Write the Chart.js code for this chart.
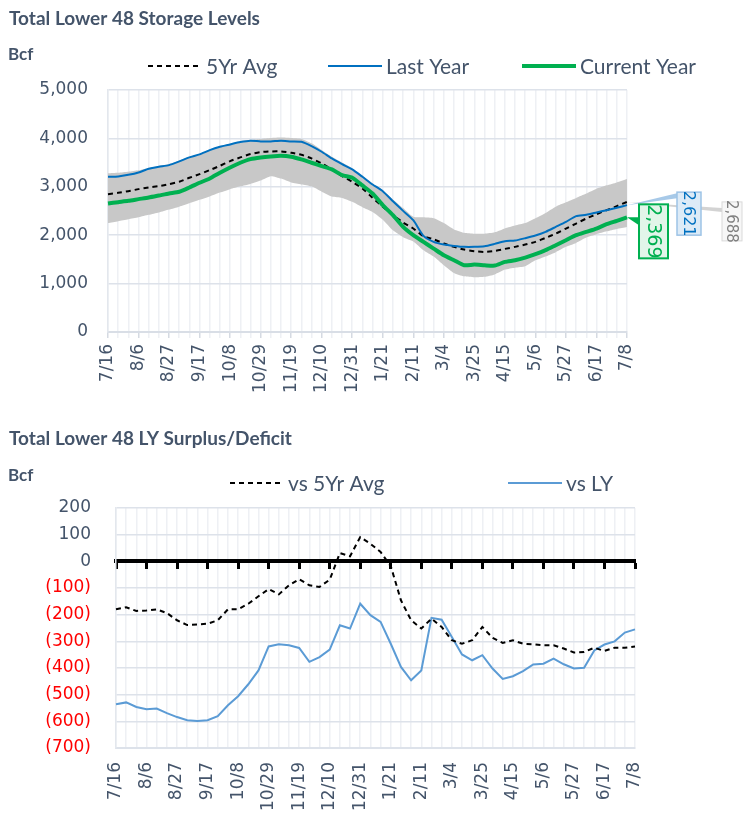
<!DOCTYPE html>
<html>
<head>
<meta charset="utf-8">
<script src="https://cdn.jsdelivr.net/npm/chart.js@4/dist/chart.umd.min.js"></script>
<style>
  body { margin: 0; background: #fff; }
  #topBox { position: absolute; left: 0; top: 0; width: 750px; height: 420px; }
  #botBox { position: absolute; left: 0; top: 420px; width: 750px; height: 413px; }
</style>
</head>
<body>
<div id="topBox"><canvas id="storageChart"></canvas></div>
<div id="botBox"><canvas id="deltaChart"></canvas></div>
<script>
// weekly report dates
const weeks = ['7/16','7/23','7/30','8/6','8/13','8/20','8/27','9/3','9/10','9/17','9/24','10/1','10/8',
  '10/15','10/22','10/29','11/5','11/12','11/19','11/26','12/3','12/10','12/17','12/24','12/31','1/7',
  '1/14','1/21','1/28','2/4','2/11','2/18','2/25','3/4','3/11','3/18','3/25','4/1','4/8','4/15','4/22',
  '4/29','5/6','5/13','5/20','5/27','6/3','6/10','6/17','6/24','7/1','7/8'];

// storage levels, Bcf
const avg5 = [2848,2876,2910,2952,2986,3014,3055,3103,3186,3262,3345,3434,3531,3607,3676,3717,3731,3731,
  3703,3662,3586,3483,3359,3221,3103,2966,2772,2586,2414,2262,2138,1979,1917,1828,1759,1703,1669,1655,
  1676,1717,1759,1807,1862,1945,2034,2138,2241,2345,2434,2517,2600,2688];
const lastYear = [3207,3214,3248,3297,3372,3414,3448,3524,3607,3669,3759,3828,3876,3924,3952,3938,3938,
  3952,3938,3931,3841,3724,3586,3469,3359,3207,3048,2910,2703,2503,2310,1986,1862,1807,1779,1759,1759,
  1772,1821,1876,1890,1938,1993,2069,2172,2276,2393,2421,2469,2517,2566,2621];
const currentYear = [2655,2683,2710,2745,2779,2820,2862,2897,2986,3083,3172,3290,3400,3497,3572,3607,
  3628,3641,3621,3566,3497,3428,3359,3241,3186,3028,2862,2621,2414,2172,2000,1862,1724,1586,1483,1379,
  1393,1379,1372,1448,1483,1538,1607,1690,1793,1897,2000,2069,2138,2228,2297,2369];
const rangeMax = [3280,3290,3310,3340,3390,3430,3470,3540,3620,3680,3770,3840,3890,3940,3970,3990,4010,
  4020,4010,3990,3900,3760,3620,3500,3380,3230,3070,2930,2740,2560,2380,2370,2350,2250,2120,2050,2030,
  2030,2060,2140,2200,2250,2350,2460,2590,2680,2770,2860,2960,3030,3090,3160];
const rangeMin = [2250,2290,2330,2370,2420,2470,2530,2590,2660,2730,2800,2880,2950,3010,3060,3130,3220,
  3170,3090,3050,3010,2900,2800,2770,2690,2580,2480,2320,2100,1960,1870,1690,1560,1380,1220,1150,1130,
  1140,1190,1290,1330,1360,1480,1560,1650,1760,1840,1950,2020,2080,2130,2170];

// surplus / deficit, Bcf
const vsAvg = [-180,-172,-186,-184,-180,-194,-221,-239,-237,-234,-221,-180,-180,-159,-131,-104,-124,-90,
  -67,-90,-96,-69,31,19,91,66,35,-18,-146,-221,-252,-215,-246,-296,-309,-296,-246,-287,-306,-296,-309,
  -311,-315,-315,-327,-342,-340,-324,-336,-324,-324,-319];
const vsLY = [-536,-529,-546,-555,-552,-569,-584,-596,-599,-596,-581,-540,-506,-461,-409,-319,-311,-315,
  -325,-377,-359,-331,-240,-252,-159,-202,-227,-309,-396,-446,-409,-212,-219,-284,-349,-371,-352,-402,
  -441,-431,-412,-387,-384,-365,-386,-402,-399,-334,-312,-300,-267,-255];

const slate = '#44546A';
Chart.defaults.font.family = "'DejaVu Sans', sans-serif";
Chart.defaults.color = slate;

const fmt = v => v.toLocaleString('en-US');

// "Bcf" unit, hand placed legend and end-of-line callouts
const extras = {
  id: 'extras',
  afterDatasetsDraw(chart, args, opts) {
    const ctx = chart.ctx;
    (opts.callouts || []).forEach(c => {
      const pts = chart.getDatasetMeta(c.index).data;
      const pt = pts[pts.length - 1];
      const vals = chart.data.datasets[c.index].data;
      const left = pt.x + c.dx, top = pt.y + c.dy;
      ctx.save();
      ctx.fillStyle = c.lead;
      ctx.beginPath();
      ctx.moveTo(pt.x, pt.y);
      ctx.lineTo(left, top + c.l1);
      ctx.lineTo(left, top + c.l2);
      ctx.closePath();
      ctx.fill();
      ctx.fillStyle = c.fill;
      ctx.strokeStyle = c.stroke;
      ctx.lineWidth = c.lw;
      ctx.fillRect(left, top, c.w, c.h);
      ctx.strokeRect(left, top, c.w, c.h);
      ctx.translate(left + c.w / 2, top + c.h / 2);
      ctx.rotate(Math.PI / 2);
      ctx.font = c.font;
      ctx.fillStyle = c.color;
      ctx.textAlign = 'center';
      ctx.textBaseline = 'middle';
      ctx.fillText(fmt(vals[vals.length - 1]), 0, 1);
      ctx.restore();
    });
  },
  afterDraw(chart, args, opts) {
    const ctx = chart.ctx;
    ctx.save();
    ctx.textAlign = 'left';
    ctx.textBaseline = 'middle';
    ctx.fillStyle = slate;
    ctx.font = "bold 17px Lato";
    ctx.fillText('Bcf', 8, opts.unitY);
    ctx.font = "21px Lato";
    opts.legend.forEach(item => {
      const ds = chart.data.datasets[item.index];
      ctx.strokeStyle = ds.borderColor;
      ctx.lineWidth = ds.borderWidth;
      ctx.setLineDash(ds.borderDash || []);
      ctx.beginPath();
      ctx.moveTo(item.x, opts.legendY);
      ctx.lineTo(item.x + 54, opts.legendY);
      ctx.stroke();
      ctx.setLineDash([]);
      ctx.fillStyle = slate;
      ctx.fillText(ds.label, item.x + 58, opts.legendY + 1);
    });
    ctx.restore();
  }
};

new Chart(document.getElementById('storageChart'), {
  type: 'line',
  data: {
    labels: weeks,
    datasets: [
      { label: '5Yr Max', data: rangeMax, borderWidth: 0, backgroundColor: '#C8C8C8', fill: '+1', order: 4 },
      { label: '5Yr Min', data: rangeMin, borderWidth: 0, backgroundColor: '#C8C8C8', fill: false, order: 5 },
      { label: '5Yr Avg', data: avg5, borderColor: '#000000', borderWidth: 2, borderDash: [5, 4], order: 2 },
      { label: 'Last Year', data: lastYear, borderColor: '#0070C0', borderWidth: 2, order: 1 },
      { label: 'Current Year', data: currentYear, borderColor: '#00B050', borderWidth: 4, order: 0 }
    ]
  },
  options: {
    responsive: true,
    maintainAspectRatio: false,
    animation: false,
    elements: { point: { radius: 0 }, line: { tension: 0.2 } },
    layout: { padding: { left: 9, right: 123, top: 0, bottom: 0 } },
    plugins: {
      legend: { display: false },
      tooltip: { enabled: false },
      title: {
        display: true, text: 'Total Lower 48 Storage Levels', align: 'start', color: slate,
        font: { family: 'Lato', size: 19, weight: 'bold' }, padding: { top: 7, bottom: 60.2 }
      },
      extras: {
        unitY: 55, legendY: 66,
        legend: [{ index: 2, x: 148 }, { index: 3, x: 328 }, { index: 4, x: 522 }],
        callouts: [
          { index: 2, dx: 95, dy: 0, w: 20, h: 39, l1: 6, l2: 10, lead: 'rgba(200,200,200,0.8)',
            fill: '#F7F7F7', stroke: '#D9D9D9', lw: 1, color: '#808080', font: '15px "DejaVu Sans"' },
          { index: 3, dx: 50, dy: -13, w: 24, h: 43, l1: 1, l2: 6, lead: 'rgba(157,195,230,0.9)',
            fill: '#DDEBF7', stroke: '#9DC3E6', lw: 1.5, color: '#0070C0', font: '16px "DejaVu Sans"' },
          { index: 4, dx: 12, dy: -13, w: 29, h: 54, l1: 13, l2: 21, lead: '#00B050',
            fill: '#E2F5E9', stroke: '#00B050', lw: 2, color: '#00B050', font: '19px "DejaVu Sans"' }
        ]
      }
    },
    scales: {
      x: {
        grid: { color: '#EEF0F4', lineWidth: 1.5, tickLength: 6,
          tickColor: c => c.index % 3 === 0 ? '#D5DAE2' : '#EEF0F4' },
        border: { color: '#D9DEE6', width: 2 },
        ticks: {
          autoSkip: false, minRotation: 90, maxRotation: 90, padding: 6,
          font: { size: 17 }, color: slate,
          callback: (v, i) => i % 3 === 0 ? weeks[i] : ''
        },
        afterFit: s => { s.height = 88; }
      },
      y: {
        min: 0, max: 5000,
        grid: { color: '#DDE2EA', lineWidth: 1.5, drawTicks: false },
        border: { color: '#E3E7ED', width: 1.5 },
        ticks: { stepSize: 1000, padding: 20, font: { size: 17 }, color: slate, callback: v => fmt(v) },
        afterFit: s => { s.width = 99; }
      }
    }
  },
  plugins: [extras]
});

new Chart(document.getElementById('deltaChart'), {
  type: 'line',
  data: {
    labels: weeks,
    datasets: [
      { label: 'vs 5Yr Avg', data: vsAvg, borderColor: '#000000', borderWidth: 2, borderDash: [5, 4], order: 0 },
      { label: 'vs LY', data: vsLY, borderColor: '#5B9BD5', borderWidth: 2, order: 1 }
    ]
  },
  options: {
    responsive: true,
    maintainAspectRatio: false,
    animation: false,
    elements: { point: { radius: 0 }, line: { tension: 0 } },
    layout: { padding: { left: 9, right: 115, top: 0, bottom: 0 } },
    plugins: {
      legend: { display: false },
      tooltip: { enabled: false },
      title: {
        display: true, text: 'Total Lower 48 LY Surplus/Deficit', align: 'start', color: slate,
        font: { family: 'Lato', size: 19, weight: 'bold' }, padding: { top: 7, bottom: 58.2 }
      },
      extras: {
        unitY: 56, legendY: 63,
        legend: [{ index: 0, x: 230 }, { index: 1, x: 508 }]
      }
    },
    scales: {
      x: {
        grid: { color: '#EEF0F4', lineWidth: 1.5, drawTicks: false },
        border: { color: '#DDE2EA', width: 2 },
        ticks: {
          autoSkip: false, minRotation: 90, maxRotation: 90, padding: 14,
          font: { size: 17 }, color: slate,
          callback: (v, i) => i % 3 === 0 ? weeks[i] : ''
        },
        afterFit: s => { s.height = 85; }
      },
      zero: {
        type: 'category', axis: 'x', position: { y: 0 },
        grid: { drawOnChartArea: false, tickLength: 6, tickWidth: 3,
          tickColor: c => c.index % 3 === 0 ? '#000000' : 'rgba(0,0,0,0)' },
        border: { color: '#000000', width: 4 },
        ticks: { display: false }
      },
      y: {
        min: -700, max: 200,
        grid: { color: c => c.tick.value === 0 ? 'rgba(0,0,0,0)' : '#DDE2EA', lineWidth: 1.5, drawTicks: false },
        border: { color: '#E3E7ED', width: 1.5 },
        ticks: {
          stepSize: 100, padding: 25, font: { size: 17 },
          color: c => c.tick.value < 0 ? '#FF0000' : slate,
          callback: v => v < 0 ? '(' + Math.abs(v) + ')' : v
        },
        afterFit: s => { s.width = 107; }
      }
    }
  },
  plugins: [extras]
});
</script>
</body>
</html>
